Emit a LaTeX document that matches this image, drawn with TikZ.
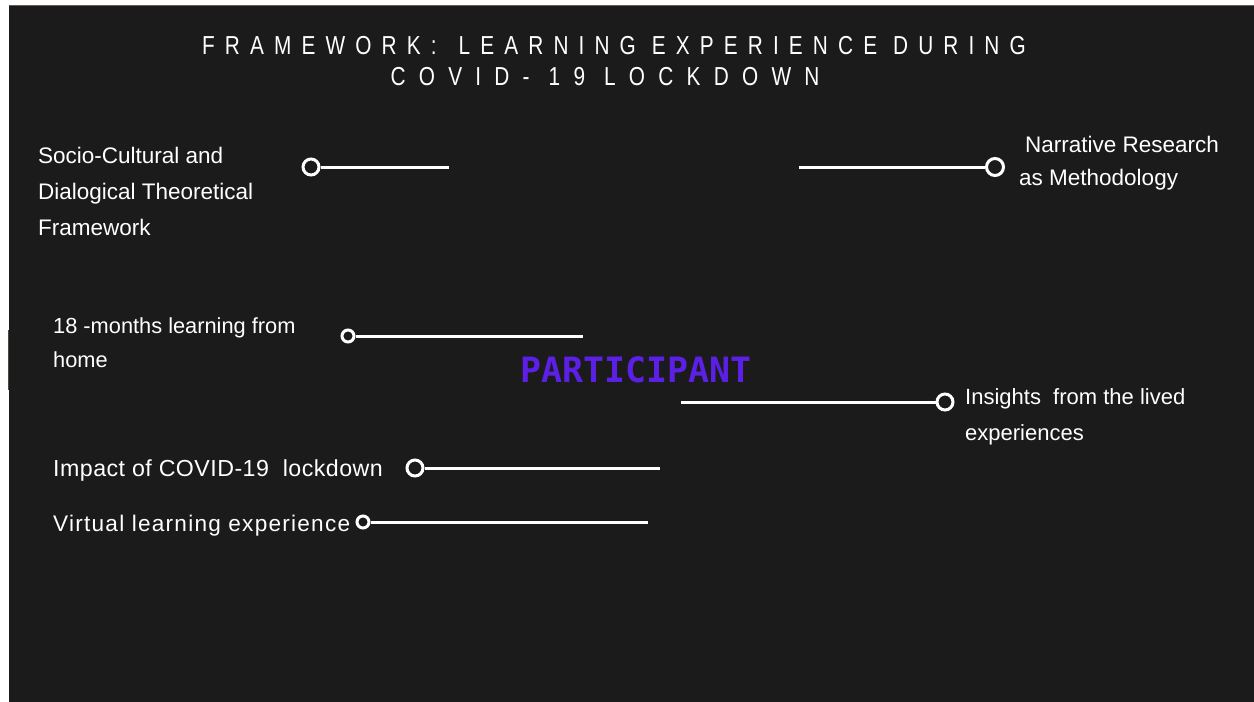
\documentclass[tikz,border=0pt]{standalone}
\usepackage{fontspec}
\setmainfont{Liberation Sans}
\newfontfamily\headfont[FakeStretch=0.8,LetterSpace=39]{Liberation Sans}
\newfontfamily\headfontwide[FakeStretch=0.8,LetterSpace=51]{Liberation Sans}
\newfontfamily\hubfont{DejaVu Sans Mono}
\definecolor{boardbg}{HTML}{1B1B1B}
\definecolor{hubviolet}{HTML}{5B1FE6}
\definecolor{rimbrown}{HTML}{6A5A48}
\tikzset{
  x=1pt, y=-1pt,
  label/.style={text=white, inner sep=0pt, align=left, anchor=base west,
    font=\fontsize{22.5}{36}\selectfont},
  knob/.style={circle, draw=white, line width=3pt, fill=boardbg, inner sep=0pt, minimum size=#1},
  knob/.default=16pt,
  link/.style={draw=white, line width=3pt},
  heading/.style={text=white, inner sep=0pt, anchor=base, font=\fontsize{26}{32}\headfont},
}
\begin{document}
\begin{tikzpicture}
\useasboundingbox (0,0) rectangle (1254,702);
% board
\fill[white] (0,0) rectangle (1254,702);
\fill[boardbg] (9,6) rectangle (1254,702);
\draw[rimbrown, line width=1.2pt] (9,5.5) -- (1254,5.5);
\draw[rimbrown!70!boardbg, line width=1.5pt] (8.5,330) -- (8.5,390);

% heading
\node[heading] (t1) at (614,54) {FRAMEWORK:\hspace{6pt} LEARNING EXPERIENCE DURING};
\node[heading, font=\fontsize{26}{32}\headfontwide] (t2) at (605,85) {COVID- 19 LOCKDOWN};

% centre label
\node[text=hubviolet, inner sep=0pt, anchor=base west,
      font=\fontsize{34.9}{40}\hubfont\bfseries] (hub) at (520,382) {PARTICIPANT};

% labels (multi-line nodes are placed by the baseline of their last line)
\node[label, font=\fontsize{22.5}{36.3}\selectfont] (l1) at (38,235.6)
  {Socio-Cultural and\\Dialogical Theoretical\\Framework};
\node[label, font=\fontsize{22.5}{33.5}\selectfont] (l2) at (1025,185.5)
  {Narrative Research\\\hspace*{-6pt}as Methodology};
\node[label, font=\fontsize{21.8}{34}\selectfont] (l3) at (53,367)
  {18 -months learning from\\home};
\node[label, font=\fontsize{22}{36}\selectfont] (l4) at (965,440)
  {Insights\ \ from the lived\\experiences};
\node[label, font=\fontsize{23.2}{36}\selectfont\addfontfeatures{LetterSpace=2}] (l5) at (53,476)
  {Impact of COVID-19\ \ lockdown};
\node[label, font=\fontsize{22.6}{36}\selectfont\addfontfeatures{LetterSpace=5.5}] (l6) at (53,531)
  {Virtual learning experience};

% knobs and their links
\node[knob] (k1) at (311,167) {};
\coordinate (e1) at (449,167);
\draw[link] (k1) -- (e1);

\node[knob=17pt] (k2) at (995,167) {};
\coordinate (e2) at (799,167);
\draw[link] (e2) -- (k2);

\node[knob=12pt] (k3) at (348,336) {};
\coordinate (e3) at (583,336);
\draw[link] (k3) -- (e3);

\node[knob] (k4) at (945,402) {};
\coordinate (e4) at (681,402);
\draw[link] (e4) -- (k4);

\node[knob] (k5) at (415,468) {};
\coordinate (e5) at (660,468);
\draw[link] (k5) -- (e5);

\node[knob=12pt] (k6) at (363,522) {};
\coordinate (e6) at (648,522);
\draw[link] (k6) -- (e6);
\end{tikzpicture}
\end{document}
